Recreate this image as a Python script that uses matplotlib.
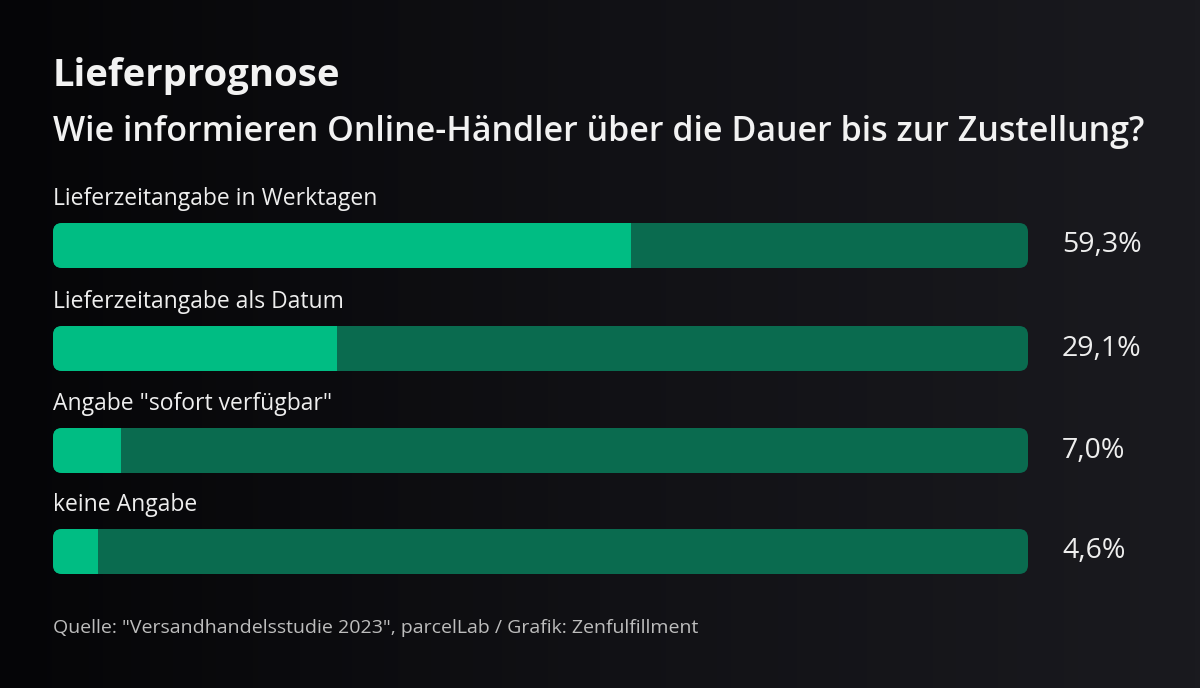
import numpy as np
import matplotlib.pyplot as plt
from matplotlib.colors import LinearSegmentedColormap
from matplotlib.patches import FancyBboxPatch, Rectangle

categories = ['Lieferzeitangabe in Werktagen', 'Lieferzeitangabe als Datum',
              'Angabe "sofort verfügbar"', 'keine Angabe']
values = [59.3, 29.1, 7.0, 4.6]
value_labels = ['59,3%', '29,1%', '7,0%', '4,6%']

title = 'Lieferprognose'
subtitle = 'Wie informieren Online-Händler über die Dauer bis zur Zustellung?'
source = 'Quelle: "Versandhandelsstudie 2023", parcelLab / Grafik: Zenfulfillment'

plt.rcParams['font.family'] = ['Open Sans', 'DejaVu Sans']

fig = plt.figure(figsize=(12, 6.88), dpi=100)
ax = fig.add_axes([0, 0, 1, 1])
ax.set_xlim(0, 1200)
ax.set_ylim(688, 0)
ax.axis('off')

# dark background, a bit lighter towards the right
grad = np.linspace(0, 1, 256)[None, :]
cmap = LinearSegmentedColormap.from_list('bg', ['#050507', '#111115', '#1a1a1f'])
ax.imshow(grad, extent=[0, 1200, 688, 0], aspect='auto', zorder=0, cmap=cmap)

ax.text(53, 76, title, color='#f2f2f2', fontsize=27.5, fontweight='bold', va='center')
ax.text(53, 132, subtitle, color='#f2f2f2', fontsize=24.5, fontweight='semibold', va='center')

x0, full_w, h = 53, 975, 45
y_tops = [223, 326, 428, 529]
for cat, v, lab, yt in zip(categories, values, value_labels, y_tops):
    ax.text(x0, yt - 24, cat, color='#eeeeee', fontsize=16.5, va='center')
    bg = FancyBboxPatch((x0, yt), full_w, h, boxstyle='round,pad=0,rounding_size=9',
                        fc='#0a6b4f', ec='none', zorder=2)
    ax.add_patch(bg)
    fill = Rectangle((x0, yt), full_w * v / 100, h, fc='#00bd83', ec='none', zorder=3)
    ax.add_patch(fill)
    fill.set_clip_path(bg)
    ax.text(1062, yt + h / 2, lab, color='#eeeeee', fontsize=20.5, va='center')

ax.text(53, 628, source, color='#bdbdbd', fontsize=14, va='center')

fig.savefig('out.png', dpi=100)
